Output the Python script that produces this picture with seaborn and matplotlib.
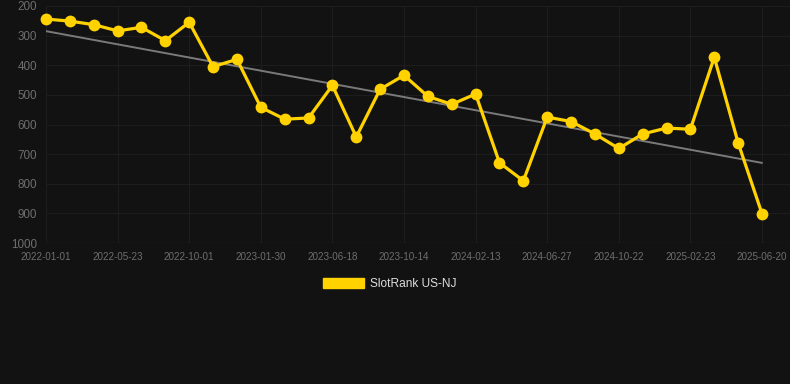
import matplotlib
matplotlib.use("Agg")
import matplotlib.pyplot as plt
import matplotlib.patches as mpatches
import seaborn as sns
import numpy as np
import pandas as pd

dates = ["2022-01-01", "2022-02-17", "2022-04-05", "2022-05-23", "2022-07-06", "2022-08-18",
         "2022-10-01", "2022-11-10", "2022-12-20", "2023-01-30", "2023-03-16", "2023-05-02",
         "2023-06-18", "2023-07-27", "2023-09-04", "2023-10-14", "2023-11-23", "2024-01-03",
         "2024-02-13", "2024-03-28", "2024-05-12", "2024-06-27", "2024-08-04", "2024-09-13",
         "2024-10-22", "2024-12-03", "2025-01-13", "2025-02-23", "2025-04-03", "2025-05-12",
         "2025-06-20"]
ranks = [244, 251, 263, 284, 272, 317, 255, 405, 380, 542,
         582, 578, 468, 642, 481, 434, 505, 532, 497, 729,
         790, 575, 590, 632, 681, 632, 612, 616, 373, 662, 901]
series_name = "SlotRank US-NJ"
y_ticks = [200, 300, 400, 500, 600, 700, 800, 900, 1000]

BG = "#121212"
GRID = "#1d1d1d"
TICK = "#6e6e6e"
GOLD = "#FFD200"

sns.set_theme(style="dark")
plt.rcParams["font.family"] = ["Liberation Sans", "DejaVu Sans"]

df = pd.DataFrame({"idx": np.arange(len(dates)), "date": dates, "rank": ranks})

fig = plt.figure(figsize=(7.9, 3.84), dpi=100, facecolor=BG)
ax = fig.add_axes([46 / 790, 1 - 243 / 384, (790 - 46) / 790, (243 - 6) / 384])
ax.set_facecolor(BG)

sns.regplot(data=df, x="idx", y="rank", scatter=False, ci=None, ax=ax,
            line_kws=dict(color="#7a7a7a", lw=1.4, zorder=2))
sns.lineplot(data=df, x="idx", y="rank", ax=ax, color=GOLD, lw=2.3,
             marker="o", markersize=8.5, markeredgewidth=0, zorder=3, clip_on=False)

ax.set_ylim(1000, 200)
n = len(dates)
ax.set_xlim(0, (n - 1) + 28 / 23.87)
ax.set_yticks(y_ticks)
ax.set_yticklabels([str(v) for v in y_ticks])
tick_idx = list(range(0, n, 3))
ax.set_xticks(tick_idx)
ax.set_xticklabels([dates[i] for i in tick_idx])

ax.grid(True, color=GRID, lw=0.8)
ax.axhline(1000, color="#262626", lw=0.9, zorder=1)
for s in ax.spines.values():
    s.set_visible(False)
ax.tick_params(axis="y", colors=GRID, labelcolor=TICK, labelsize=8.4, length=5.5, pad=1, width=0.8)
ax.tick_params(axis="x", colors=GRID, labelcolor=TICK, labelsize=7.1, length=3.8, pad=3, width=0.8)
ax.set_xlabel("")
ax.set_ylabel("")

handle = mpatches.Patch(facecolor=GOLD, edgecolor=GOLD, label=series_name)
leg = fig.legend(handles=[handle], loc="center", bbox_to_anchor=(390 / 790, 1 - 284 / 384),
                 frameon=False, fontsize=8.6, handlelength=3.4, handleheight=0.9,
                 handletextpad=0.5)
for t in leg.get_texts():
    t.set_color("#DDDDDD")

fig.savefig("out.png", dpi=100, facecolor=BG)
